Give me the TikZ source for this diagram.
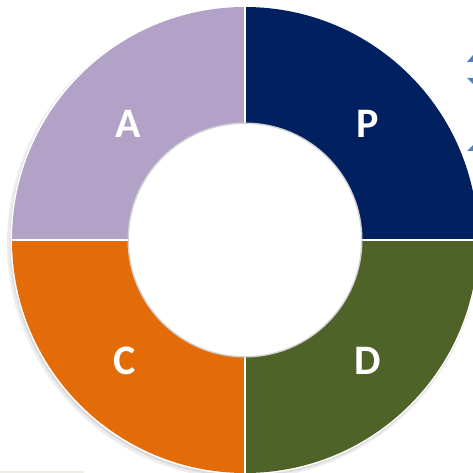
\documentclass[tikz,border=0pt]{standalone}
\usepackage{fontspec}
\setmainfont{Carlito}
\definecolor{cA}{HTML}{B3A2C7}
\definecolor{cP}{HTML}{002060}
\definecolor{cD}{HTML}{4F6228}
\definecolor{cC}{HTML}{E36C09}
\definecolor{arrblue}{HTML}{4F81BD}
\definecolor{faint}{HTML}{EEEEE4}
\begin{document}
\begin{tikzpicture}[x=1pt,y=-1pt,
  lab/.style={text=white,font=\bfseries\fontsize{42}{42}\selectfont,inner sep=0pt},
  sep/.style={draw=white,line width=2pt}]
\useasboundingbox (0,0) rectangle (473,473);
\begin{scope}
\clip (0,0) rectangle (473,473);
\fill[white] (0,0) rectangle (473,473);
\coordinate (O) at (245,240);
% shadow
\fill[black,opacity=0.07] (243,243) circle (236);
\fill[black,opacity=0.08] (244,242) circle (234.5);
\fill[white] (O) circle (234.5);
% sectors
\fill[cP] (O) -- ++(0,-233) arc[start angle=-90,end angle=0,radius=233] -- cycle;
\fill[cD] (O) -- ++(233,0) arc[start angle=0,end angle=90,radius=233] -- cycle;
\fill[cC] (O) -- ++(0,233) arc[start angle=90,end angle=180,radius=233] -- cycle;
\fill[cA] (O) -- ++(-233,0) arc[start angle=180,end angle=270,radius=233] -- cycle;
\draw[sep] (O) -- ++(0,-234);
\draw[sep] (O) -- ++(0,234);
\draw[sep] (O) -- ++(234,0);
\draw[sep] (O) -- ++(-234,0);
% inner hole
\fill[gray!35] (O) circle (117.5);
\fill[white] (O) circle (116);
% blue arrow fragments
\fill[arrblue] (467,62) -- (473,55) -- (473,62) -- cycle;
\fill[arrblue] (467,78) -- (473,78) -- (473,84) -- cycle;
\fill[arrblue] (467,151) -- (473,145) -- (473,151) -- cycle;
% faint line
\fill[faint] (0,471) rectangle (84,473);
\end{scope}
\node[lab] (A) at (128,124) {A};
\node[lab] (P) at (368,124) {P};
\node[lab] (C) at (125,361) {C};
\node[lab] (D) at (368,361) {D};
\end{tikzpicture}
\end{document}
